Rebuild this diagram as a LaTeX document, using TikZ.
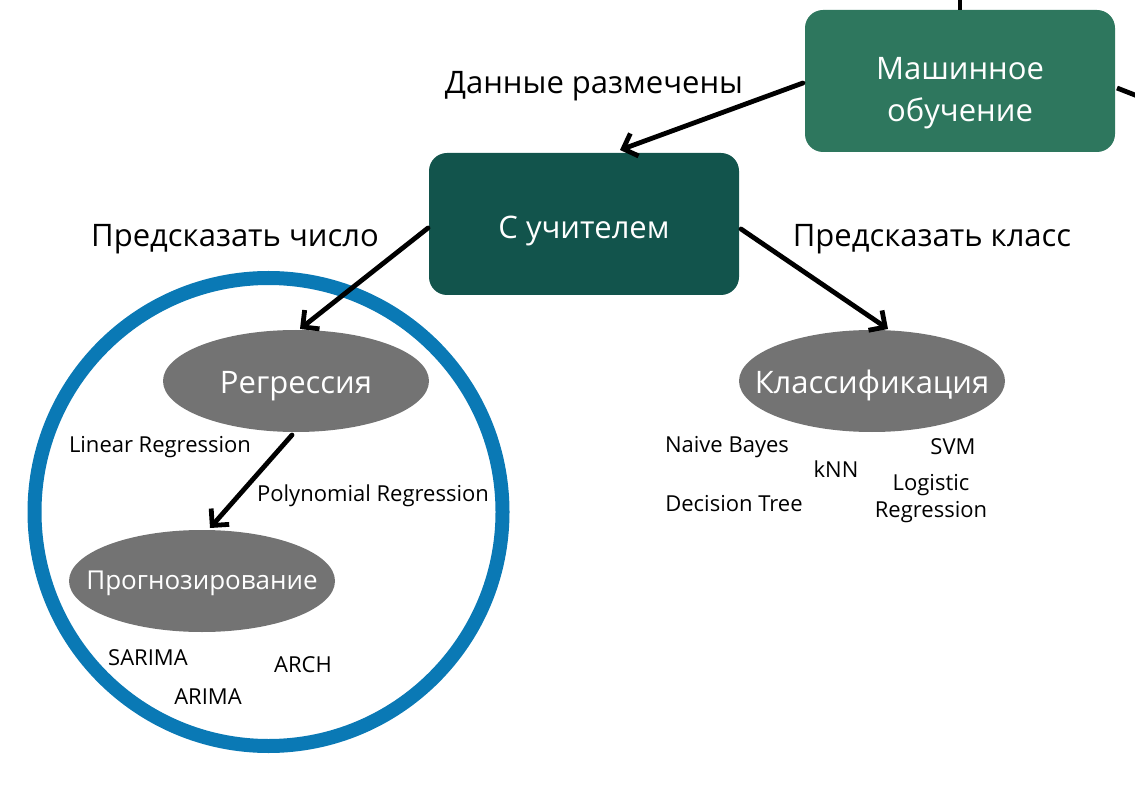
\documentclass[tikz,border=0pt]{standalone}
\usepackage{fontspec}
\setmainfont{Open Sans}
\usetikzlibrary{arrows.meta,calc,shapes.geometric}
\definecolor{mlgreen}{RGB}{46,119,94}
\definecolor{supgreen}{RGB}{18,84,76}
\definecolor{ringblue}{RGB}{10,121,181}
\definecolor{ellgray}{RGB}{115,115,115}
\newcommand{\lowered}[2]{\raisebox{-#1}[0pt][0pt]{\begin{tabular}{@{}c@{}}#2\end{tabular}}}
\tikzset{
  box/.style={rounded corners=18, minimum width=310, minimum height=142, text=white, font=\fontsize{31}{41}\selectfont, align=center, inner sep=0},
  ell/.style={ellipse, fill=ellgray, minimum width=266, minimum height=102, text=white, inner sep=0},
  conn/.style={line width=4.8, -{Straight Barb[length=12, width=24, line width=4.8]}, line cap=round},
  plain/.style={line width=4.8},
  lbl/.style={font=\fontsize{31}{36}\selectfont, inner sep=0, yshift=-4},
  alg/.style={font=\fontsize{22}{27}\selectfont, inner sep=0, align=center, yshift=-3},
}
\begin{document}
\begin{tikzpicture}[x=1pt,y=-1pt]
\useasboundingbox (0,0) rectangle (1135,791);
\clip (0,0) rectangle (1135,791);
% boxes
\node[box, fill=mlgreen] (mo) at (960,81) {\lowered{18pt}{Машинное\\[1pt]обучение}};
\node[box, fill=supgreen] (su) at (584,224) {\lowered{13pt}{С учителем}};
% ring
\node[circle, draw=ringblue, line width=14, minimum size=468, inner sep=0] (ring) at (268.5,512) {};
% ellipses
\node[ell, font=\fontsize{31}{36}\selectfont] (reg) at (296,381) {\makebox[0pt]{\lowered{12pt}{Регрессия}}};
\node[ell, font=\fontsize{26}{30}\selectfont] (prog) at (202,581) {\makebox[0pt]{\lowered{9pt}{Прогнозирование}}};
\node[ell, font=\fontsize{31}{36}\selectfont] (cls) at (872,381) {\makebox[0pt]{\lowered{12pt}{Классификация}}};
% edge coordinates
\coordinate (topend) at (960,-5);
\coordinate (rightend) at (1140,97);
\coordinate (moL) at (803,83);
\coordinate (suT) at (620,150);
\coordinate (suL) at (428,228);
\coordinate (regT) at (300,329);
\coordinate (suR) at (741,229);
\coordinate (clsT) at (888,329);
\coordinate (regB) at (292,435);
\coordinate (progT) at (210,528);
\coordinate (moR) at (1117,88);
% connectors
\draw[plain] (topend) -- (mo.north);
\draw[plain] (moR) -- (rightend);
\draw[conn] (moL) -- (suT);
\draw[conn] (suL) -- (regT);
\draw[conn] (suR) -- (clsT);
\draw[conn] (regB) -- (progT);
% labels
\node[lbl] (l1) at (594,82) {Данные размечены};
\node[lbl] (l2) at (235,235) {Предсказать число};
\node[lbl] (l3) at (932,235) {Предсказать класс};
% algorithms
\node[alg] (a1) at (160,444) {Linear Regression};
\node[alg] (a2) at (373,493) {Polynomial Regression};
\node[alg] (a3) at (148,655) {SARIMA};
\node[alg] (a4) at (303,662) {ARCH};
\node[alg] (a5) at (208,694) {ARIMA};
\node[alg] (b1) at (727,444) {Naive Bayes};
\node[alg] (b2) at (836,466) {kNN};
\node[alg] (b3) at (953,444) {SVM};
\node[alg] (b4) at (931,496) {Logistic\\Regression};
\node[alg] (b5) at (734,501) {Decision Tree};
\end{tikzpicture}
\end{document}
